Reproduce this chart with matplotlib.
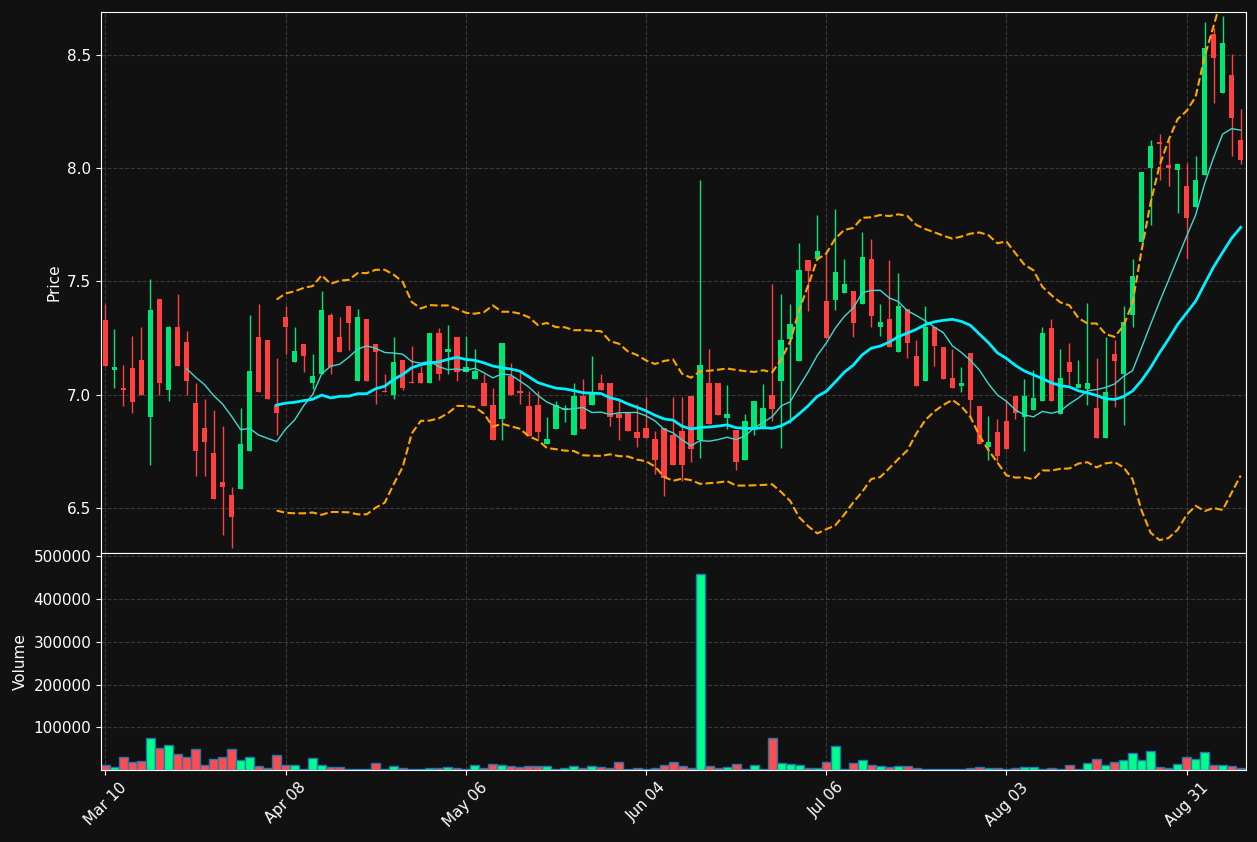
import numpy as np
import pandas as pd
import matplotlib
matplotlib.use("Agg")
import matplotlib.pyplot as plt

# OHLC, one candle per trading day
opens = [7.33, 7.11, 7.03, 7.118, 7.153, 6.90, 7.423, 7.02, 7.30, 7.233, 6.964, 6.853, 6.743, 6.615, 6.557, 6.585, 6.75, 7.255, 7.242, 6.955,
         7.343, 7.146, 7.224, 7.05, 7.09, 7.352, 7.255, 7.39, 7.062, 7.334, 7.224, 7.017, 7.0, 7.153, 7.05, 7.096, 7.049, 7.27, 7.186, 7.255,
         7.10, 7.07, 7.052, 6.955, 6.89, 7.084, 7.017, 6.95, 6.955, 6.78, 6.85, 6.93, 6.82, 6.995, 6.956, 7.052, 7.052, 6.915, 6.92, 6.835,
         6.853, 6.805, 6.852, 6.822, 6.837, 6.995, 6.80, 7.052, 7.052, 6.897, 6.844, 6.71, 6.85, 6.85, 6.999, 7.062, 7.247, 7.15, 7.595, 7.60,
         7.414, 7.42, 7.45, 7.458, 7.40, 7.60, 7.30, 7.334, 7.19, 7.379, 7.171, 7.062, 7.30, 7.21, 7.074, 7.04, 7.184, 6.95, 6.77, 6.835,
         6.884, 6.995, 6.90, 6.93, 6.97, 7.295, 6.914, 7.145, 7.03, 7.025, 6.94, 6.81, 7.18, 7.09, 7.35, 7.673, 8.00, 8.115, 8.014, 7.99,
         7.92, 7.83, 7.97, 8.593, 8.334, 8.412, 8.125]
highs = [7.40, 7.29, 7.13, 7.26, 7.30, 7.51, 7.423, 7.305, 7.445, 7.28, 7.05, 6.98, 6.93, 6.86, 6.59, 6.94, 7.352, 7.40, 7.242, 7.16,
         7.39, 7.30, 7.224, 7.18, 7.457, 7.36, 7.343, 7.39, 7.38, 7.334, 7.224, 7.09, 7.254, 7.153, 7.214, 7.127, 7.27, 7.293, 7.307, 7.255,
         7.26, 7.20, 7.09, 7.03, 7.227, 7.14, 7.10, 7.017, 7.017, 6.90, 6.972, 6.955, 7.05, 7.07, 7.17, 7.09, 7.052, 6.977, 6.92, 6.96,
         6.99, 6.837, 6.852, 6.99, 6.99, 6.995, 7.95, 7.20, 7.052, 7.043, 6.844, 6.914, 6.972, 7.046, 7.49, 7.443, 7.40, 7.67, 7.595, 7.794,
         7.625, 7.82, 7.60, 7.458, 7.72, 7.686, 7.40, 7.595, 7.536, 7.379, 7.242, 7.39, 7.30, 7.21, 7.20, 7.12, 7.184, 6.95, 6.906, 6.89,
         6.977, 6.995, 7.068, 7.11, 7.30, 7.333, 7.20, 7.23, 7.153, 7.406, 7.16, 7.254, 7.242, 7.39, 7.60, 7.982, 8.125, 8.15, 8.125, 8.02,
         8.025, 8.054, 8.647, 8.62, 8.672, 8.505, 8.26]
lows = [7.128, 7.03, 6.95, 6.92, 6.999, 6.69, 7.00, 6.97, 7.128, 7.00, 6.64, 6.64, 6.54, 6.38, 6.32, 6.585, 6.75, 7.01, 6.98, 6.82,
        7.18, 7.146, 7.10, 7.024, 7.09, 7.09, 7.19, 7.198, 7.062, 7.062, 6.96, 7.01, 6.98, 7.02, 7.05, 7.049, 7.049, 7.065, 7.09, 7.06,
        7.10, 7.07, 6.95, 6.80, 6.80, 6.999, 6.96, 6.818, 6.81, 6.78, 6.85, 6.88, 6.82, 6.85, 6.956, 7.02, 6.86, 6.80, 6.84, 6.77,
        6.81, 6.65, 6.55, 6.69, 6.616, 6.70, 6.72, 6.87, 6.91, 6.85, 6.668, 6.71, 6.82, 6.85, 6.884, 6.763, 6.874, 7.15, 7.37, 7.60,
        7.25, 7.374, 7.45, 7.256, 7.40, 7.30, 7.257, 7.212, 7.19, 7.16, 7.04, 7.062, 7.128, 7.071, 7.03, 7.01, 6.903, 6.78, 6.712, 6.70,
        6.76, 6.89, 6.75, 6.93, 6.97, 6.97, 6.914, 7.043, 7.03, 6.955, 6.81, 6.81, 6.947, 6.866, 7.30, 7.673, 7.75, 7.95, 7.92, 7.80,
        7.60, 7.83, 7.97, 8.287, 8.334, 8.054, 8.02]
closes = [7.128, 7.12, 7.02, 6.968, 6.999, 7.374, 7.049, 7.30, 7.128, 7.062, 6.75, 6.79, 6.54, 6.59, 6.46, 6.78, 7.105, 7.01, 6.98, 6.92,
          7.30, 7.193, 7.17, 7.083, 7.374, 7.12, 7.19, 7.318, 7.343, 7.062, 7.19, 7.01, 7.145, 7.03, 7.049, 7.049, 7.27, 7.09, 7.202, 7.10,
          7.122, 7.105, 6.95, 6.80, 7.227, 6.999, 7.008, 6.818, 6.833, 6.805, 6.955, 6.94, 6.995, 6.85, 7.003, 7.02, 6.90, 6.897, 6.84, 6.81,
          6.81, 6.71, 6.63, 6.69, 6.69, 6.76, 7.131, 6.87, 6.91, 6.915, 6.70, 6.884, 6.972, 6.94, 6.937, 7.242, 7.313, 7.551, 7.548, 7.635,
          7.25, 7.542, 7.49, 7.318, 7.608, 7.345, 7.321, 7.212, 7.39, 7.23, 7.04, 7.30, 7.216, 7.071, 7.03, 7.052, 6.974, 6.78, 6.79, 6.73,
          6.76, 6.92, 6.995, 6.986, 7.27, 6.97, 7.074, 7.10, 7.045, 7.05, 6.81, 7.012, 7.15, 7.321, 7.524, 7.982, 8.10, 8.106, 8.00, 8.02,
          7.78, 7.95, 8.53, 8.488, 8.553, 8.22, 8.036]
volumes = [10900, 6200, 29600, 18000, 20000, 76000, 50700, 57700, 36700, 29600, 48400, 10900, 25000, 29600, 48400, 22600, 29600, 8600, 3900, 34300,
           10900, 10900, 1500, 27300, 10900, 6200, 6200, 1500, 1500, 1500, 15600, 1500, 8600, 3900, 1500, 1500, 3900, 3900, 6200, 3900,
           1500, 10900, 3900, 13000, 10900, 8600, 6200, 8600, 8600, 8600, 1500, 3900, 8600, 3900, 8600, 6200, 3900, 18000, 1500, 3900,
           1500, 3900, 10900, 18000, 8600, 3900, 460000, 8600, 3900, 6200, 13000, 1500, 10900, 1500, 76000, 15600, 13000, 10900, 3900, 3900,
           18000, 55400, 1500, 15600, 22600, 10900, 8600, 6200, 8600, 8600, 3900, 1500, 1500, 1500, 1500, 1500, 3900, 6200, 3900, 3900,
           1500, 3900, 6200, 6200, 1500, 3900, 1500, 10900, 1500, 15600, 25000, 10900, 18000, 22600, 39000, 22600, 43700, 6200, 3900, 13000,
           29600, 25000, 41300, 10900, 10900, 8600, 3900]
tick_pos = [0, 20, 40, 60, 80, 100, 120]
tick_labels = ["Mar 10", "Apr 08", "May 06", "Jun 04", "Jul 06", "Aug 03", "Aug 31"]

BG = "#111111"
UP, DOWN = "#00e676", "#ff4040"
VUP, VDOWN = "#00ff88", "#ff4d4d"

df = pd.DataFrame({"open": opens, "high": highs, "low": lows, "close": closes, "volume": volumes})
x = np.arange(len(df))
up = df["close"] >= df["open"]
ma10 = df["close"].rolling(10).mean()
ma20 = df["close"].rolling(20).mean()
sd20 = df["close"].rolling(20).std(ddof=0)

fig = plt.figure(figsize=(12.57, 8.42), dpi=100, facecolor=BG)
ax = fig.add_axes([0.0803, 0.3432, 0.911, 0.6425], facecolor=BG)
axv = fig.add_axes([0.0803, 0.0855, 0.911, 0.2577], facecolor=BG, sharex=ax)

# candles
cols = np.where(up, UP, DOWN)
ax.vlines(x, df["low"], df["high"], colors=cols, linewidth=1, zorder=2)
body_lo = np.minimum(df["open"], df["close"])
body_h = np.maximum((df["close"] - df["open"]).abs(), 0.008)
ax.bar(x, body_h, bottom=body_lo, width=0.6, color=cols, zorder=3)

# indicators
ax.plot(x, ma10, color="#40d8d0", linewidth=1, zorder=4)
ax.plot(x, ma20, color="#00f0ff", linewidth=2, zorder=4)
ax.plot(x, ma20 + 2 * sd20, color="#ffa500", linestyle="--", linewidth=1.5, zorder=4)
ax.plot(x, ma20 - 2 * sd20, color="#ffa500", linestyle="--", linewidth=1.5, zorder=4)

ax.set_ylim(6.30, 8.69)
ax.set_yticks([6.5, 7.0, 7.5, 8.0, 8.5])
ax.set_ylabel("Price", color="white", fontsize=11)
ax.set_xlim(-0.5, 126.6)

# volume
axv.bar(x, df["volume"], width=1.0, color=np.where(up, VUP, VDOWN), edgecolor="#1f77b4", linewidth=1)
axv.set_ylim(0, 508000)
axv.set_yticks([100000, 200000, 300000, 400000, 500000])
axv.set_yticklabels([f"{v}" for v in [100000, 200000, 300000, 400000, 500000]])
axv.set_ylabel("Volume", color="white", fontsize=11)
axv.set_xticks(tick_pos)
axv.set_xticklabels(tick_labels, rotation=45, ha="center")

for a in (ax, axv):
    a.grid(True, color="#444444", linestyle="--", linewidth=0.8, alpha=0.8)
    a.set_axisbelow(True)
    a.tick_params(colors="white", labelsize=11)
    for s in a.spines.values():
        s.set_color("white")
plt.setp(ax.get_xticklabels(), visible=False)

fig.savefig("out.png", dpi=100, facecolor=BG)
